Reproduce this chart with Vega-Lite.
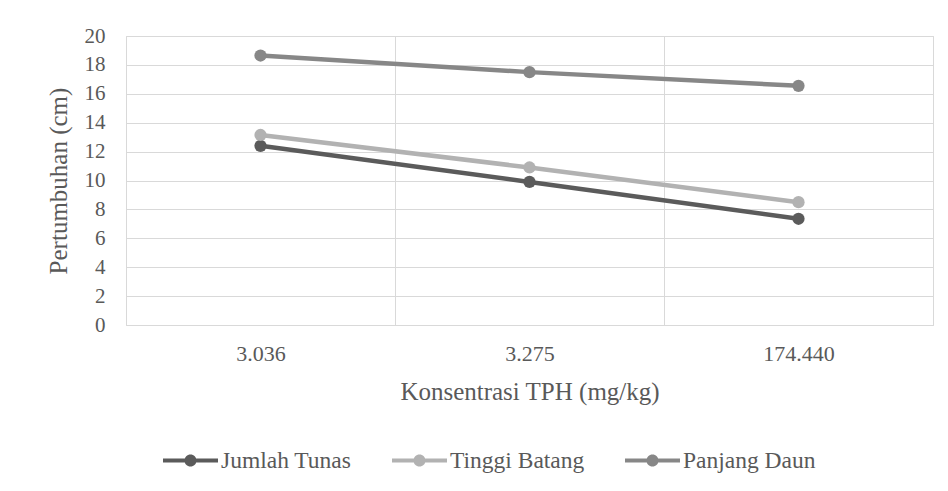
{
  "$schema": "https://vega.github.io/schema/vega-lite/v6.json",
  "width": 807,
  "height": 289,
  "autosize": {"type": "none"},
  "padding": {"left": 126, "top": 36, "right": 15, "bottom": 166},
  "background": "white",
  "config": {
    "font": "Liberation Serif",
    "view": {"stroke": "#d9d9d9", "strokeWidth": 1},
    "axis": {
      "gridColor": "#d9d9d9",
      "gridWidth": 1,
      "labelColor": "#595959",
      "titleColor": "#595959",
      "labelFont": "Liberation Serif",
      "titleFont": "Liberation Serif",
      "titleFontWeight": "normal",
      "ticks": false,
      "domain": false
    }
  },
  "data": {
    "values": [
      {"konsentrasi": "3.036", "seri": "Jumlah Tunas", "nilai": 12.4},
      {"konsentrasi": "3.275", "seri": "Jumlah Tunas", "nilai": 9.9},
      {"konsentrasi": "174.440", "seri": "Jumlah Tunas", "nilai": 7.35},
      {"konsentrasi": "3.036", "seri": "Tinggi Batang", "nilai": 13.15},
      {"konsentrasi": "3.275", "seri": "Tinggi Batang", "nilai": 10.9},
      {"konsentrasi": "174.440", "seri": "Tinggi Batang", "nilai": 8.5},
      {"konsentrasi": "3.036", "seri": "Panjang Daun", "nilai": 18.65},
      {"konsentrasi": "3.275", "seri": "Panjang Daun", "nilai": 17.5},
      {"konsentrasi": "174.440", "seri": "Panjang Daun", "nilai": 16.55}
    ]
  },
  "encoding": {
    "x": {
      "field": "konsentrasi",
      "type": "nominal",
      "sort": null,
      "scale": {"type": "band", "paddingInner": 0, "paddingOuter": 0},
      "axis": {
        "title": "Konsentrasi TPH (mg/kg)",
        "labelAngle": 0,
        "grid": true,
        "tickBand": "extent",
        "labelFontSize": 22,
        "labelPadding": 18,
        "titleFontSize": 25,
        "titlePadding": 15
      }
    },
    "y": {
      "field": "nilai",
      "type": "quantitative",
      "scale": {"domain": [0, 20], "nice": false},
      "axis": {
        "title": "Pertumbuhan (cm)",
        "values": [0, 2, 4, 6, 8, 10, 12, 14, 16, 18, 20],
        "grid": true,
        "labelFontSize": 21,
        "labelPadding": 21,
        "titleFontSize": 25,
        "titlePadding": 13
      }
    },
    "color": {
      "field": "seri",
      "type": "nominal",
      "scale": {
        "domain": ["Jumlah Tunas", "Tinggi Batang", "Panjang Daun"],
        "range": ["#5b5b5b", "#b2b2b2", "#878787"]
      },
      "legend": {
        "title": null,
        "orient": "none",
        "direction": "horizontal",
        "legendX": 37,
        "legendY": 397,
        "labelFontSize": 23.5,
        "labelColor": "#595959",
        "labelFont": "Liberation Serif",
        "labelOffset": 3,
        "columnPadding": 40,
        "symbolType": "M-1,-0.075H-0.207V0.075H-1Z M0.207,-0.075H1V0.075H0.207Z M0.22,0A0.22,0.22,0,1,1,-0.22,0A0.22,0.22,0,1,1,0.22,0Z",
        "symbolSize": 3025,
        "symbolStrokeWidth": 0,
        "encode": {
          "symbols": {
            "update": {
              "fill": {"scale": "color", "field": "value"},
              "stroke": {"value": "transparent"},
              "opacity": {"value": 1}
            }
          }
        }
      }
    }
  },
  "layer": [
    {"mark": {"type": "line", "strokeWidth": 4.5}},
    {"mark": {"type": "point", "filled": true, "size": 150, "opacity": 1}}
  ]
}
